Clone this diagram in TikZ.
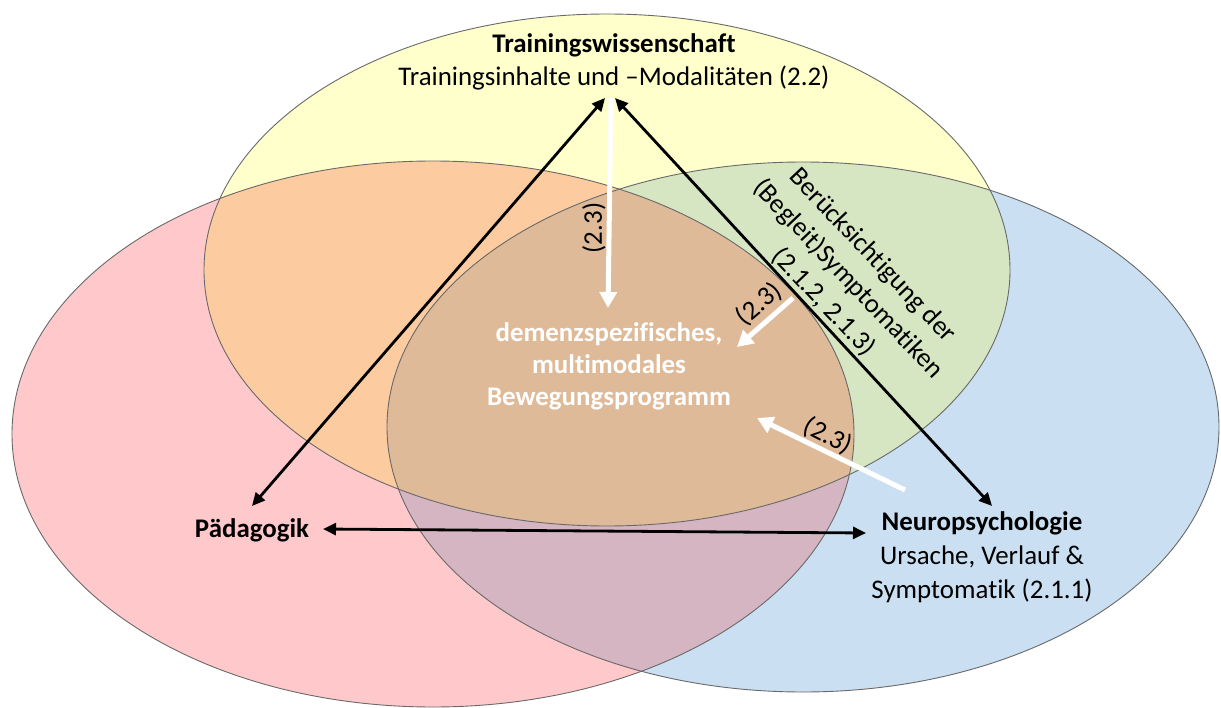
\documentclass[tikz,border=0pt]{standalone}
\usepackage{fontspec}
\setmainfont{Carlito}[Ligatures={TeX,NoCommon}]
\usetikzlibrary{arrows.meta}

% fills of the three sets and of their overlaps
\definecolor{setY}{RGB}{255,255,204}
\definecolor{setR}{RGB}{255,201,203}
\definecolor{setB}{RGB}{202,223,241}
\definecolor{setYR}{RGB}{252,204,160}
\definecolor{setYB}{RGB}{214,230,194}
\definecolor{setRB}{RGB}{213,181,193}
\definecolor{setYRB}{RGB}{222,186,152}
\definecolor{rim}{RGB}{105,105,105}

\begin{document}
\begin{tikzpicture}[x=1bp,y=-1bp,
  vennrim/.style={draw=rim, line width=0.9bp},
  blkarrow/.style={line width=2.8bp,
    {Triangle[length=13bp,width=12bp]}-{Triangle[length=13bp,width=12bp]}},
  whtarrow/.style={draw=white, line width=5bp, -{Triangle[length=16bp,width=17bp]}},
  txt/.style={font=\fontsize{27}{34}\selectfont, align=center, inner sep=0pt},
  btxt/.style={font=\fontsize{27}{34}\selectfont\bfseries, align=center, inner sep=0pt},
]
\useasboundingbox (0,0) rectangle (1221,708);
\fill[white] (0,0) rectangle (1221,708);

% the three sets
\def\ellY{(607,270) ellipse [x radius=403, y radius=256]}
\def\ellR{(433,434) ellipse [x radius=421, y radius=273]}
\def\ellB{(803,427) ellipse [x radius=416, y radius=265]}

\fill[setY] \ellY;
\fill[setR] \ellR;
\fill[setB] \ellB;
\begin{scope}\clip \ellY; \fill[setYR] \ellR; \end{scope}
\begin{scope}\clip \ellY; \fill[setYB] \ellB; \end{scope}
\begin{scope}\clip \ellR; \fill[setRB] \ellB; \end{scope}
\begin{scope}\clip \ellY; \clip \ellR; \fill[setYRB] \ellB; \end{scope}
\draw[vennrim] \ellY;
\draw[vennrim] \ellR;
\draw[vennrim] \ellB;

% texts
\node[btxt] (tw) at (614,45) {Trainingswissenschaft};
\node[txt] (twsub) at (614,78) {Trainingsinhalte und –Modalitäten (2.2)};
\node[btxt] (pd) at (252,530) {Pädagogik};
\node[txt] (np) at (982,557) {\bfseries Neuropsychologie\\Ursache, Verlauf \&\\Symptomatik (2.1.1)};
\node[btxt, text=white, font=\fontsize{27}{32}\selectfont\bfseries] (prog) at (609,366)
  {demenzspezifisches,\\multimodales\\Bewegungsprogramm};
\node[txt, rotate=-46.5] (sym) at (848,279)
  {Berücksichtigung der\\(Begleit)Symptomatiken\\(2.1.2, 2.1.3)};

% arrow end points
\coordinate (apexL) at (605,98);
\coordinate (apexW) at (611,98);
\coordinate (apexR) at (615,98);
\coordinate (pdTop) at (252,506);
\coordinate (npTop) at (992,506);
\coordinate (pdR) at (323,529);
\coordinate (npL) at (866,533);
\coordinate (w1) at (608,308);
\coordinate (w2s) at (793,298);
\coordinate (w2) at (737,347);
\coordinate (w3s) at (905,490);
\coordinate (w3) at (757,418);

% white arrows into the programme
\draw[whtarrow] (apexW) -- (w1);
\draw[whtarrow] (w2s) -- (w2);
\draw[whtarrow] (w3s) -- (w3);
\node[txt, rotate=90] (l1) at (594,228) {(2.3)};
\node[txt, rotate=40] (l2) at (759,304) {(2.3)};
\node[txt, rotate=-27] (l3) at (828,436) {(2.3)};

% black arrows between the disciplines
\draw[blkarrow] (apexL) -- (pdTop);
\draw[blkarrow] (apexR) -- (npTop);
\draw[blkarrow] (pdR) -- (npL);
\end{tikzpicture}
\end{document}
